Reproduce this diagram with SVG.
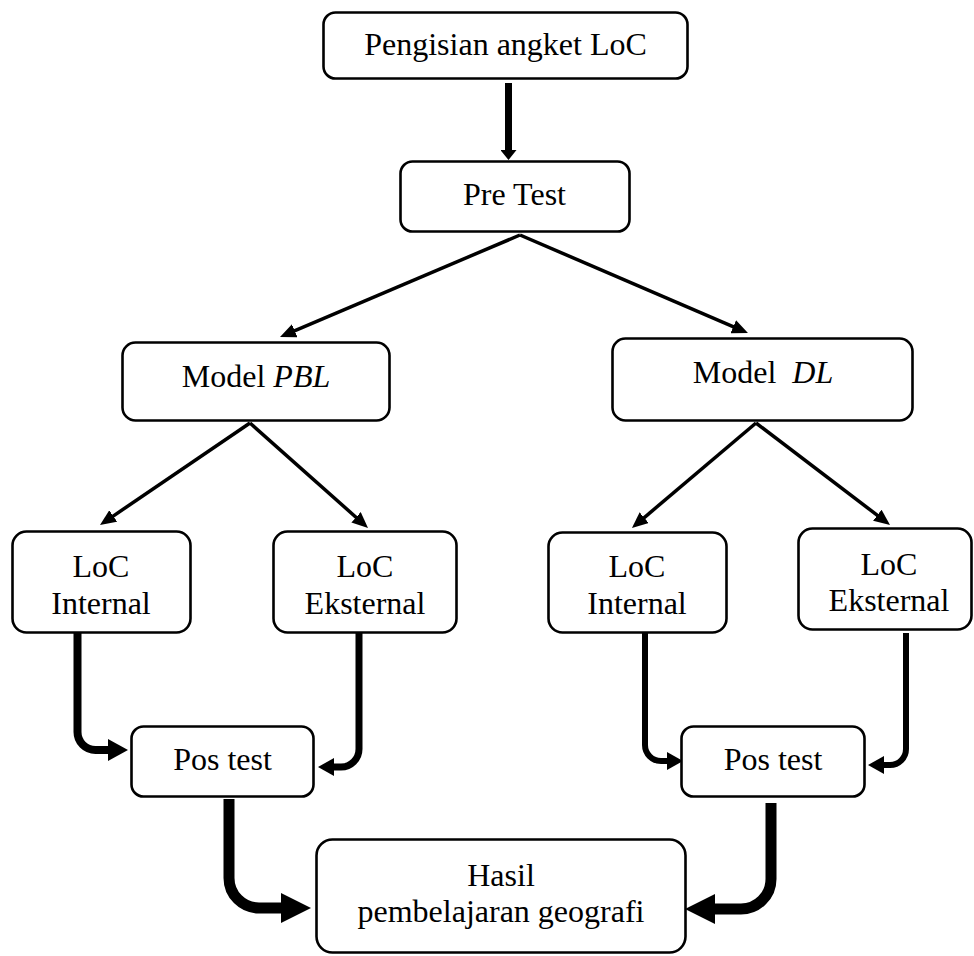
<svg xmlns="http://www.w3.org/2000/svg" width="974" height="956" viewBox="0 0 974 956">
<style>
.box{fill:#fff;stroke:#000;stroke-width:2.6}
.t{font-family:"Liberation Serif","Times New Roman",serif;font-size:32px;fill:#000;text-anchor:middle}
.i{font-style:italic}
.c{fill:none;stroke:#000}
</style>
<defs>
<marker id="mThin" markerUnits="userSpaceOnUse" markerWidth="16" markerHeight="14" refX="1" refY="7" orient="auto"><path d="M0,0 L16,7 L0,14 z" fill="#000"/></marker>
<marker id="mTop" markerUnits="userSpaceOnUse" markerWidth="10" markerHeight="16" refX="1" refY="8" orient="auto"><path d="M0,0 L10,8 L0,16 z" fill="#000"/></marker>
<marker id="mMed" markerUnits="userSpaceOnUse" markerWidth="20" markerHeight="22" refX="1" refY="11" orient="auto"><path d="M0,0 L20,11 L0,22 z" fill="#000"/></marker>
<marker id="mSmall" markerUnits="userSpaceOnUse" markerWidth="16" markerHeight="18" refX="1" refY="9" orient="auto"><path d="M0,0 L16,9 L0,18 z" fill="#000"/></marker>
<marker id="mBig" markerUnits="userSpaceOnUse" markerWidth="30" markerHeight="30" refX="1" refY="15" orient="auto"><path d="M0,0 L30,15 L0,30 z" fill="#000"/></marker>
</defs>
<g id="connectors">
<path class="c" d="M508.5,83 V151" stroke-width="7" marker-end="url(#mTop)"/>
<path class="c" d="M520,235 L293.8,331.1" stroke-width="3.5" marker-end="url(#mThin)"/>
<path class="c" d="M520,235 L734.2,327.1" stroke-width="3.5" marker-end="url(#mThin)"/>
<path class="c" d="M250,423 L112.4,516.6" stroke-width="3.5" marker-end="url(#mThin)"/>
<path class="c" d="M250,423 L356.8,518" stroke-width="3.5" marker-end="url(#mThin)"/>
<path class="c" d="M756,423 L643.4,518.3" stroke-width="3.5" marker-end="url(#mThin)"/>
<path class="c" d="M756,423 L878.1,515.9" stroke-width="3.5" marker-end="url(#mThin)"/>
<path class="c" d="M77.5,633 V732 A18,18 0 0 0 95.5,750 H109" stroke-width="8" marker-end="url(#mMed)"/>
<path class="c" d="M359,633 V749 A18,18 0 0 1 341,767 H333" stroke-width="7" marker-end="url(#mSmall)"/>
<path class="c" d="M229,799 V878 A30,30 0 0 0 259,908 H282" stroke-width="11" marker-end="url(#mBig)"/>
<path class="c" d="M645,633 V745 A16,16 0 0 0 661,761 H668" stroke-width="6" marker-end="url(#mSmall)"/>
<path class="c" d="M906,633 V749 A16,16 0 0 1 890,765 H883" stroke-width="6" marker-end="url(#mSmall)"/>
<path class="c" d="M771,803 V879 A30,30 0 0 1 741,909 H714" stroke-width="11" marker-end="url(#mBig)"/>
</g>
<g id="angket"><rect class="box" x="323.5" y="12.5" width="364" height="66" rx="12"/><text class="t" x="505.5" y="55">Pengisian angket LoC</text></g>
<g id="pretest"><rect class="box" x="400.5" y="161.5" width="229" height="70" rx="12"/><text class="t" x="514.5" y="205">Pre Test</text></g>
<g id="pbl"><rect class="box" x="122.5" y="342.5" width="267" height="78" rx="13"/><text class="t" x="256" y="387">Model <tspan class="i">PBL</tspan></text></g>
<g id="dl"><rect class="box" x="612.5" y="338.5" width="300" height="82" rx="13"/><text class="t" x="763" y="383">Model <tspan class="i" dx="8">DL</tspan></text></g>
<g id="loc-int-1"><rect class="box" x="12.5" y="531.5" width="178" height="101" rx="14"/><text class="t" x="101" y="577">LoC</text><text class="t" x="101" y="614">Internal</text></g>
<g id="loc-eks-1"><rect class="box" x="273.5" y="531.5" width="183" height="101" rx="14"/><text class="t" x="365" y="577">LoC</text><text class="t" x="365" y="614">Eksternal</text></g>
<g id="loc-int-2"><rect class="box" x="548.5" y="532.5" width="178" height="100" rx="14"/><text class="t" x="637" y="577">LoC</text><text class="t" x="637" y="614">Internal</text></g>
<g id="loc-eks-2"><rect class="box" x="798.5" y="528.5" width="173" height="101" rx="14"/><text class="t" x="889" y="575">LoC</text><text class="t" x="889" y="611">Eksternal</text></g>
<g id="pos-1"><rect class="box" x="131.5" y="726.5" width="182" height="70" rx="12"/><text class="t" x="222.5" y="770">Pos test</text></g>
<g id="pos-2"><rect class="box" x="681.5" y="726.5" width="183" height="70" rx="12"/><text class="t" x="773" y="770">Pos test</text></g>
<g id="hasil"><rect class="box" x="316.5" y="839.5" width="369" height="113" rx="16"/><text class="t" x="501" y="886">Hasil</text><text class="t" x="501" y="922">pembelajaran geografi</text></g>
</svg>
